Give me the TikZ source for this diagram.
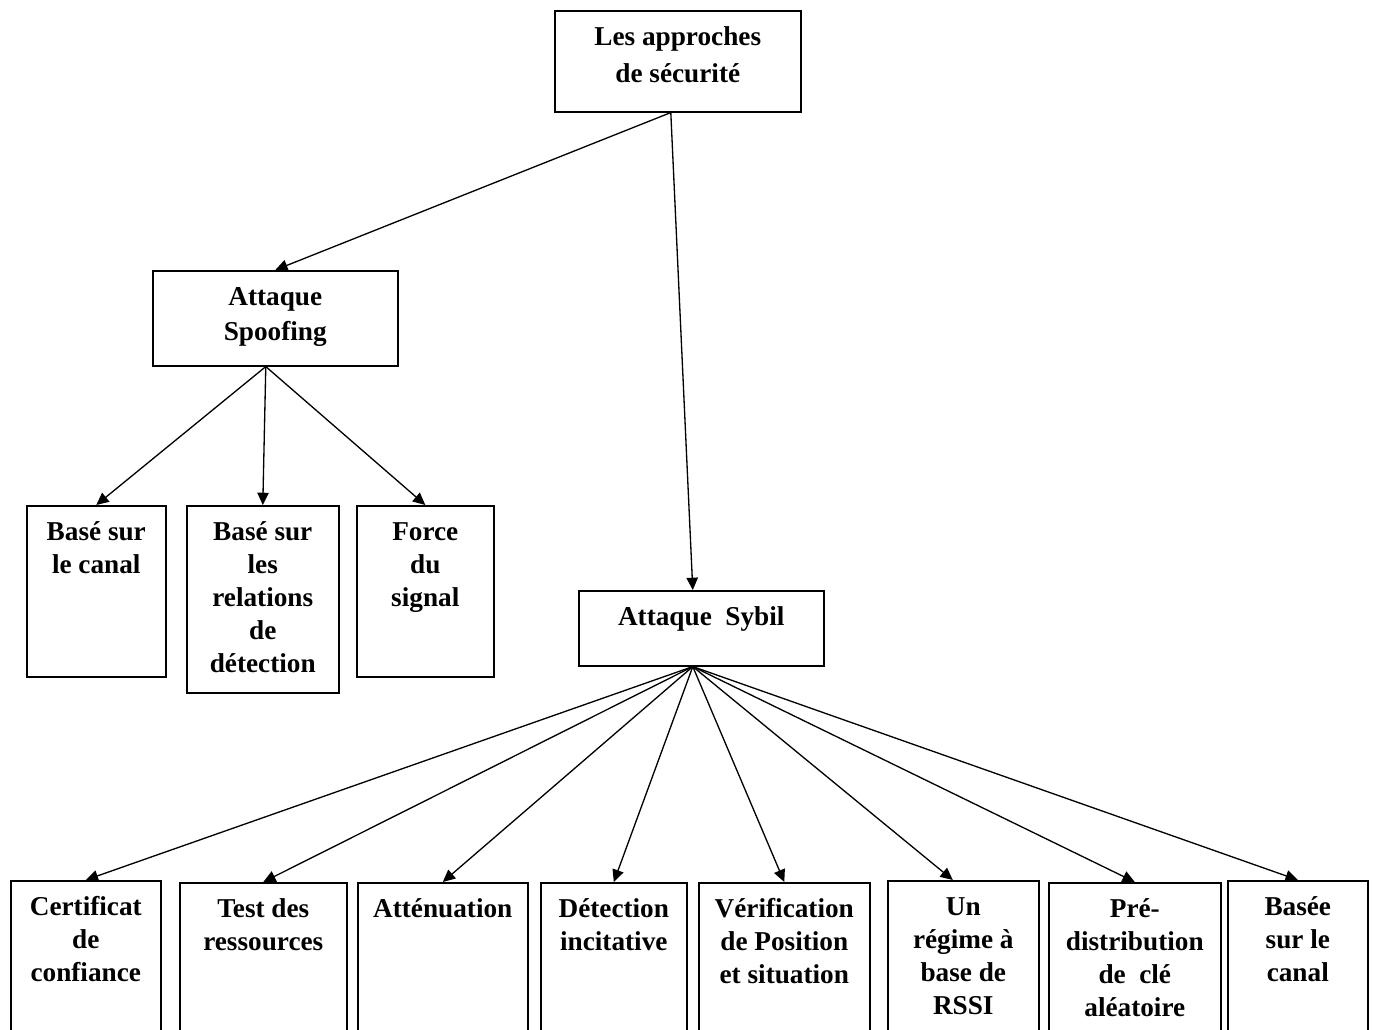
\documentclass[tikz,border=0pt]{standalone}
\usepackage{fontspec}
\setmainfont{Liberation Serif}
\usetikzlibrary{arrows.meta}
\newlength\px
\setlength\px{0.02cm}
\newcommand{\contenu}[3]{\parbox[t][#2\px][t]{#1\px}{\centering\rule{0pt}{35\px}#3}}
\tikzset{boite/.style={draw, line width=0.9pt, inner sep=0pt, anchor=north west,
    font=\fontsize{15.5}{18.7}\selectfont\bfseries}}
\tikzset{fleche/.style={-{Triangle[length=7pt,width=6.5pt]}, line width=0.75pt}}

\begin{document}
\begin{tikzpicture}[x=0.02cm,y=-0.02cm]
  \clip (0,0) rectangle (1373,1030);
  \fill[white] (0,0) rectangle (1373,1030);
  % racine
  \node[boite] (top) at (554,10) {\contenu{246}{101}{Les approches\\[2pt]de sécurité}};
  % spoofing
  \node[boite] (spoof) at (152,270) {\contenu{245}{95}{Attaque\\[1pt]Spoofing}};
  \node[boite] (canal) at (26,505) {\contenu{139}{171}{Basé sur\\le canal}};
  \node[boite] (relat) at (186,505) {\contenu{152}{187}{Basé sur\\les\\relations\\de\\détection}};
  \node[boite] (force) at (356,505) {\contenu{137}{171}{Force\\du\\signal}};
  % sybil
  \node[boite] (sybil) at (578,590) {\contenu{245}{75}{Attaque\ \ Sybil}};
  \node[boite] (cert) at (10,880) {\contenu{150}{160}{Certificat\\de\\confiance}};
  \node[boite] (test) at (179,882) {\contenu{167}{160}{Test des\\ressources}};
  \node[boite] (att) at (357,882) {\contenu{170}{160}{Atténuation}};
  \node[boite] (detec) at (540,882) {\contenu{146}{160}{Détection\\incitative}};
  \node[boite] (verif) at (698,882) {\contenu{171}{160}{Vérification\\de Position\\et situation}};
  \node[boite] (rssi) at (887,880) {\contenu{151}{160}{Un\\régime à\\base de\\RSSI}};
  \node[boite] (cle) at (1048,882) {\contenu{172}{160}{Pré-\\distribution\\de\ \ clé\\aléatoire}};
  \node[boite] (basee) at (1227,880) {\contenu{140}{160}{Basée\\sur le\\canal}};

  \draw[fleche] ([xshift=-0.14cm]top.south) -- (spoof.north);
  \draw[fleche] ([xshift=-0.14cm]top.south) -- ([xshift=-0.17cm]sybil.north);
  \foreach \n in {canal,relat,force}
    \draw[fleche] ([xshift=-0.19cm]spoof.south) -- (\n.north);
  \foreach \n/\d in {cert/0,test/0,att/0,detec/0,verif/0,rssi/-0.21,cle/0,basee/0}
    \draw[fleche] ([xshift=-0.17cm]sybil.south) -- ([xshift=\d cm]\n.north);
\end{tikzpicture}
\end{document}
